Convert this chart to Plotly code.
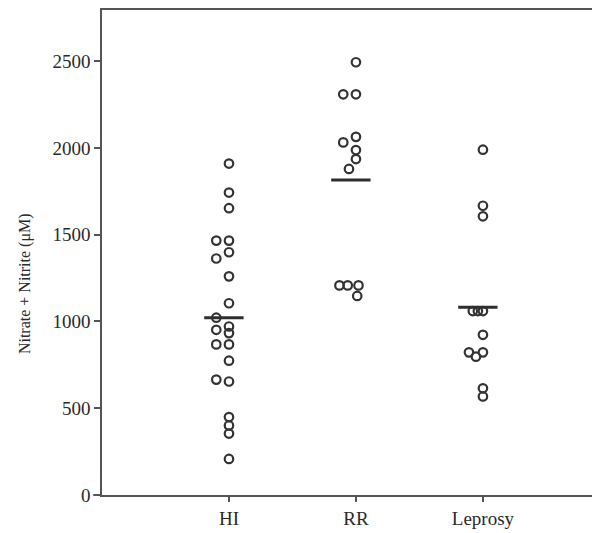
import plotly.graph_objects as go

# ---- data ----
categories = ["HI", "RR", "Leprosy"]

hi_values = [1910, 1743, 1653, 1466, 1466, 1399, 1363, 1260, 1105, 1022, 971,
             952, 933, 868, 868, 774, 665, 654, 449, 401, 354, 208]
hi_dx = [0, 0, 0, -0.10, 0, 0, -0.10, 0, 0, -0.10, 0,
         -0.10, 0, -0.10, 0, 0, -0.10, 0, 0, 0, 0, 0]

rr_values = [2494, 2309, 2309, 2064, 2032, 1988, 1936, 1879, 1208, 1208, 1208, 1147]
rr_dx = [0, -0.10, 0, 0, -0.10, 0, 0, -0.055, -0.13, -0.065, 0.02, 0.01]

lep_values = [1990, 1667, 1606, 1060, 1060, 1060, 923, 822, 822, 797, 615, 568]
lep_dx = [0, 0, 0, -0.08, -0.04, 0, 0, -0.11, 0, -0.055, 0, 0]

groups = [hi_values, rr_values, lep_values]
offsets = [hi_dx, rr_dx, lep_dx]

y_ticks = [0, 500, 1000, 1500, 2000, 2500]
y_title = "Nitrate + Nitrite (μM)"

ink = "#333333"
axis_col = "#555555"
serif = "Liberation Serif, Times New Roman, serif"

fig = go.Figure()

for i, (vals, dx) in enumerate(zip(groups, offsets)):
    pos = i + 1
    fig.add_trace(go.Scatter(
        x=[pos + d for d in dx], y=vals, mode="markers",
        marker=dict(symbol="circle-open", size=8.5, color=ink,
                    line=dict(width=2.2, color=ink)),
        showlegend=False, hoverinfo="y"))
    mean = sum(vals) / len(vals)
    fig.add_trace(go.Scatter(
        x=[pos - 0.195, pos + 0.115], y=[mean, mean], mode="lines",
        line=dict(color="#2e2e2e", width=3), showlegend=False, hoverinfo="y"))

# small extension of the x-axis line left of the y-axis
fig.add_shape(type="line", xref="paper", yref="paper", x0=-0.018, x1=0, y0=0, y1=0,
              line=dict(color=axis_col, width=1.5))

# y-axis title (placed slightly below the plot's centre as in the reference)
fig.add_annotation(text=y_title, textangle=-90, xref="paper", yref="paper",
                   x=-0.152, y=0.435, xanchor="center", yanchor="middle",
                   showarrow=False,
                   font=dict(family=serif, size=16, color="#2a2a2a"))

fig.update_layout(
    width=600, height=525,
    margin=dict(l=94, r=0, t=0, b=38),
    paper_bgcolor="white", plot_bgcolor="white",
    font=dict(family=serif, color="#333333", size=17),
    xaxis=dict(range=[0, 3.985], tickvals=[1, 2, 3], ticktext=categories,
               showline=True, mirror=True, linecolor=axis_col, linewidth=1.5,
               ticks="outside", ticklen=5, tickcolor=axis_col, tickwidth=1.5,
               showgrid=False, zeroline=False,
               tickfont=dict(family=serif, size=19, color="#2a2a2a")),
    yaxis=dict(range=[0, 2795], tickvals=y_ticks,
               showline=True, linecolor=axis_col, linewidth=1.5,
               ticks="outside", ticklen=6, tickcolor=axis_col, tickwidth=1.5,
               showgrid=False, zeroline=False,
               tickfont=dict(family=serif, size=19, color="#2a2a2a")),
)

fig.write_html("out.html")
